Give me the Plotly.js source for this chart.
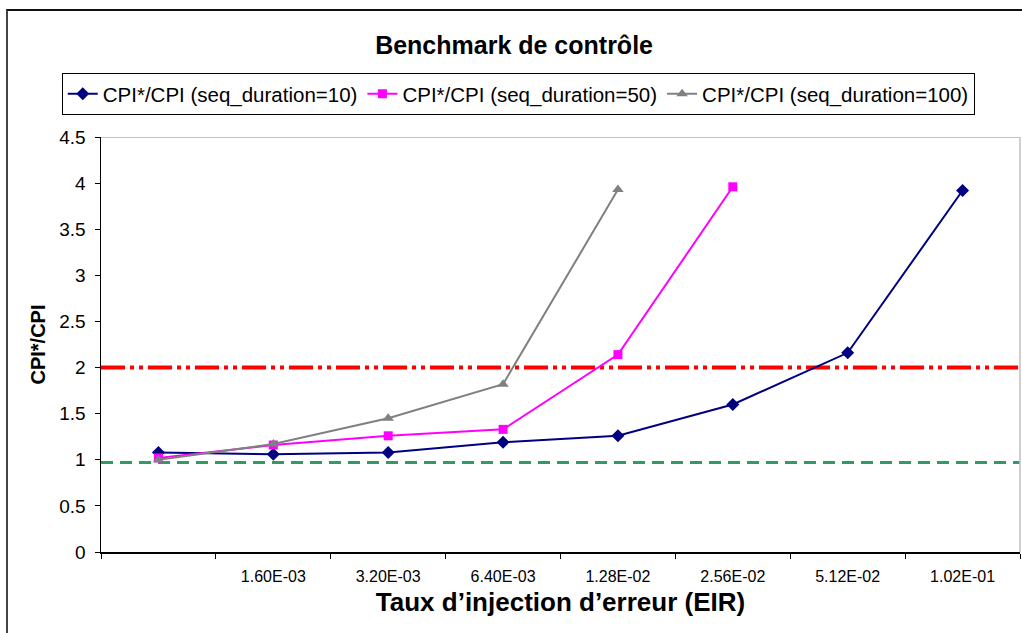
<!DOCTYPE html>
<html>
<head>
<meta charset="utf-8">
<script src="https://cdn.plot.ly/plotly-3.0.1.min.js"></script>
<style>
html,body{margin:0;padding:0;background:#fff;}
#chart{width:1022px;height:633px;}
#frame{position:absolute;left:6px;top:9px;width:1020px;height:630px;border-left:2px solid #444;border-top:2px solid #111;pointer-events:none;}
</style>
</head>
<body>
<div id="chart"></div>
<div id="frame"></div>
<script>
const categories = [" ", "1.60E-03", "3.20E-03", "6.40E-03", "1.28E-02", "2.56E-02", "5.12E-02", "1.02E-01"];
const seq10 = [1.08, 1.06, 1.08, 1.19, 1.26, 1.60, 2.16, 3.92];
const seq50 = [1.02, 1.16, 1.26, 1.33, 2.14, 3.96];
const seq100 = [1.00, 1.17, 1.45, 1.82, 3.93];
const seriesNames = ["CPI*/CPI (seq_duration=10)", "CPI*/CPI (seq_duration=50)", "CPI*/CPI (seq_duration=100)"];
const upperThreshold = 2.0;
const lowerThreshold = 0.97;

const FONT = "Arial, 'Liberation Sans', sans-serif";

const traces = [
  {x: categories.slice(0, seq10.length), y: seq10, name: seriesNames[0], type: 'scatter', mode: 'lines+markers',
   line: {color: '#000080', width: 2}, marker: {symbol: 'diamond', size: 10, color: '#000080'}},
  {x: categories.slice(0, seq50.length), y: seq50, name: seriesNames[1], type: 'scatter', mode: 'lines+markers',
   line: {color: '#ff00ff', width: 2}, marker: {symbol: 'square', size: 9, color: '#ff00ff'}},
  {x: categories.slice(0, seq100.length), y: seq100, name: seriesNames[2], type: 'scatter', mode: 'lines+markers',
   line: {color: '#808080', width: 2}, marker: {symbol: 'triangle-up', size: 10, color: '#808080'}}
];

const layout = {
  width: 1022, height: 633,
  margin: {l: 101, r: 2, t: 137, b: 81},
  paper_bgcolor: '#fff', plot_bgcolor: '#fff',
  font: {family: FONT, color: '#000'},
  showlegend: true,
  title: {text: '<b>Benchmark de contrôle</b>', font: {family: FONT, size: 25, color: '#000'},
          x: 0.503, xref: 'container', xanchor: 'center', y: 1 - 45/633, yref: 'container', yanchor: 'middle'},
  legend: {orientation: 'h', x: 0.454, xanchor: 'center', y: 1.104, yanchor: 'middle',
           bordercolor: '#000', borderwidth: 1, bgcolor: '#fff',
           font: {family: FONT, size: 20.5, color: '#000'}, itemwidth: 30, tracegroupgap: 0},
  xaxis: {type: 'category', categoryorder: 'array', categoryarray: categories,
          range: [-0.5, categories.length - 0.5],
          tickson: 'boundaries', ticks: 'outside', ticklen: 5, tickcolor: '#000', tickwidth: 1,
          ticklabelstandoff: 9,
          showline: true, linecolor: '#000', linewidth: 1.5, showgrid: false, zeroline: false,
          tickfont: {family: FONT, size: 16, color: '#000'},
          title: {text: '<b>Taux d’injection d’erreur (EIR)</b>', font: {family: FONT, size: 26, color: '#000'}, standoff: 9}},
  yaxis: {range: [0, 4.5], dtick: 0.5, tick0: 0, ticks: 'outside', ticklen: 5, tickcolor: '#000', tickwidth: 1,
          ticklabelstandoff: 5,
          showline: true, linecolor: '#000', linewidth: 1.5, showgrid: false, zeroline: false,
          tickfont: {family: FONT, size: 19, color: '#000'},
          title: {text: '<b>CPI*/CPI</b>', font: {family: FONT, size: 20, color: '#000'}, standoff: 8}},
  shapes: [
    {type: 'line', xref: 'paper', x0: 0, x1: 1, yref: 'y', y0: 4.5, y1: 4.5, line: {color: '#c0c0c0', width: 2}},
    {type: 'line', xref: 'paper', x0: 1, x1: 1, yref: 'paper', y0: 0, y1: 1, line: {color: '#c0c0c0', width: 1.5}},
    {type: 'line', xref: 'paper', x0: 0, x1: 1, yref: 'y', y0: upperThreshold, y1: upperThreshold,
     line: {color: '#ff0000', width: 4, dash: '24px,5px,4px,5px,4px,5px'}, layer: 'below'},
    {type: 'line', xref: 'paper', x0: 0, x1: 1, yref: 'y', y0: lowerThreshold, y1: lowerThreshold,
     line: {color: '#339966', width: 3, dash: '12px,7px'}, layer: 'below'}
  ]
};

Plotly.newPlot('chart', traces, layout, {displayModeBar: false, staticPlot: true});
</script>
</body>
</html>
